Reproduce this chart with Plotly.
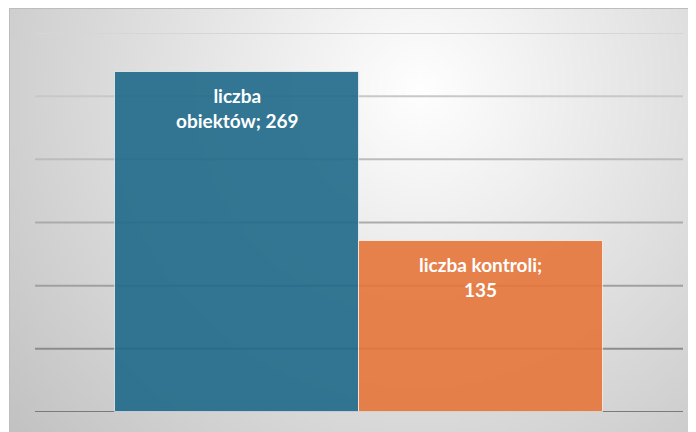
import base64
import struct
import zlib

import numpy as np
import plotly.graph_objects as go

# ---- data ----
series_names = ["liczba obiektów", "liczba kontroli"]
values = [269, 135]
label_texts = ["liczba<br>obiektów; 269", "liczba kontroli;<br>135"]
grid_values = [0, 50, 100, 150, 200, 250, 300]

# ---- styles ----
bar_colors = ["#1f6a8a", "#e7763b"]
grid_colors = ["#7a7a7a", "#8c8c8c", "#a0a0a0", "#ababab", "#bcbcbc", "#c8c8c8", "#d6d6d6"]

OFF = 8  # page body margin
W, H = 696, 432
ML, MT = 35 - OFF, 33 - OFF
MR = W - (683 - OFF)
MB = H - (412 - OFF)
PW, PH = W - ML - MR, H - MT - MB


def gradient_png(w, h):
    # radial gradient image (white centre, grey edges), screen pixel space
    xs = np.linspace(0, W, w)[None, :] + OFF
    ys = np.linspace(0, H, h)[:, None] + OFF
    d = np.sqrt((xs - 420) ** 2 + (ys - 90) ** 2)
    v = np.clip(255 - d * 58 / 513, 190, 255).astype(np.uint8)
    raw = b"".join(b"\x00" + bytes(np.repeat(row, 3)) for row in v)

    def chunk(t, data):
        c = struct.pack(">I", len(data)) + t + data
        return c + struct.pack(">I", zlib.crc32(t + data) & 0xFFFFFFFF)

    png = b"\x89PNG\r\n\x1a\n"
    png += chunk(b"IHDR", struct.pack(">IIBBBBB", w, h, 8, 2, 0, 0, 0))
    png += chunk(b"IDAT", zlib.compress(raw, 9))
    png += chunk(b"IEND", b"")
    return "data:image/png;base64," + base64.b64encode(png).decode()


def px_x(p):
    return (p - ML) / PW


def px_y(p):
    return (H - MB - p) / PH


fig = go.Figure()
fig.add_trace(
    go.Bar(
        x=series_names,
        y=values,
        marker=dict(color=bar_colors, opacity=0.9,
                    line=dict(color="rgba(255,255,255,0.7)", width=1)),
        hoverinfo="skip",
    )
)

shapes = []
for gv, gc in zip(grid_values, grid_colors):
    shapes.append(dict(type="line", xref="paper", yref="y", x0=0, x1=1, y0=gv, y1=gv,
                       line=dict(color=gc, width=2), layer="below"))
shapes.append(dict(type="rect", xref="paper", yref="paper",
                   x0=px_x(1.5), x1=px_x(W + 5), y0=px_y(0.5), y1=px_y(H + 5),
                   line=dict(color="#bdbdbd", width=1), layer="below"))

annotations = []
for name, v, t in zip(series_names, values, label_texts):
    annotations.append(dict(x=name, y=v, xref="x", yref="y", text=t, showarrow=False,
                            yanchor="top", yshift=-10,
                            font=dict(family="Lato", size=19, color="white", weight="bold")))

fig.update_layout(
    width=W, height=H,
    margin=dict(l=ML, r=MR, t=MT, b=MB),
    paper_bgcolor="white",
    plot_bgcolor="rgba(0,0,0,0)",
    bargap=0,
    showlegend=False,
    xaxis=dict(range=[-0.828, 1.828], showticklabels=False, showgrid=False,
               zeroline=False, showline=False, ticks=""),
    yaxis=dict(range=[0, 300], showticklabels=False, showgrid=False,
               zeroline=False, showline=False, ticks=""),
    shapes=shapes,
    annotations=annotations,
    images=[dict(source=gradient_png(174, 108), xref="paper", yref="paper",
                 x=px_x(1), y=px_y(0), sizex=(W - 1) / PW, sizey=H / PH,
                 xanchor="left", yanchor="top", sizing="stretch", layer="below")],
)

fig.write_html("out.html")
